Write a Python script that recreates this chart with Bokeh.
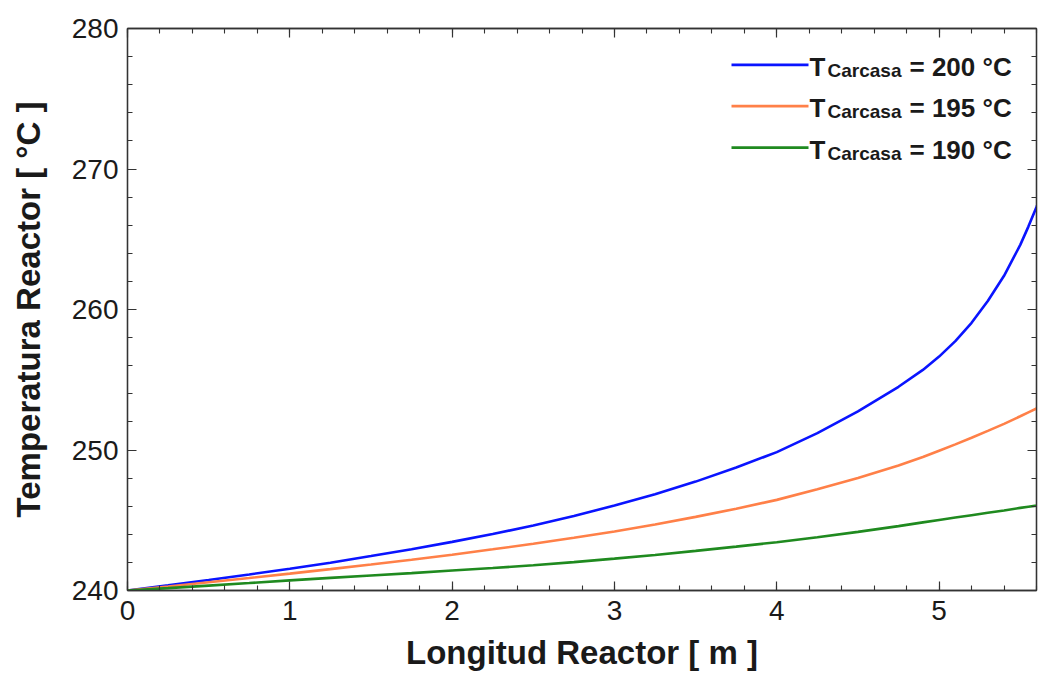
from bokeh.plotting import figure
from bokeh.models import FixedTicker, LinearAxis, Label, Range1d, CustomLabelingPolicy
from bokeh.embed import file_html
from bokeh.resources import INLINE

# ---- data ----
longitud = [0.0, 0.25, 0.5, 0.75, 1.0, 1.25, 1.5, 1.75, 2.0, 2.25, 2.5, 2.75, 3.0, 3.25, 3.5, 3.75,
            4.0, 4.25, 4.5, 4.75, 4.9, 5.0, 5.1, 5.2, 5.3, 5.4, 5.5, 5.55, 5.6, 5.62]
t_200 = [240.0, 240.37, 240.75, 241.14, 241.55, 241.98, 242.45, 242.94, 243.46, 244.02, 244.62, 245.3,
         246.05, 246.85, 247.75, 248.75, 249.85, 251.2, 252.75, 254.5, 255.7, 256.65, 257.75, 259.05,
         260.6, 262.4, 264.6, 265.9, 267.3, 267.9]
t_195 = [240.0, 240.29, 240.59, 240.89, 241.2, 241.52, 241.85, 242.19, 242.55, 242.93, 243.33, 243.76,
         244.2, 244.7, 245.24, 245.82, 246.45, 247.2, 248.0, 248.9, 249.5, 249.95, 250.4, 250.87,
         251.36, 251.86, 252.4, 252.68, 252.95, 253.05]
t_190 = [240.0, 240.17, 240.35, 240.53, 240.72, 240.9, 241.07, 241.24, 241.42, 241.6, 241.8, 242.02,
         242.27, 242.53, 242.82, 243.12, 243.44, 243.79, 244.17, 244.58, 244.85, 245.02, 245.19, 245.36,
         245.53, 245.7, 245.88, 245.96, 246.04, 246.08]

series_labels = ["= 200 °C", "= 195 °C", "= 190 °C"]
series_colors = ["#0a14ff", "#ff8048", "#1f8a1f"]

x_major = [0, 1, 2, 3, 4, 5]
x_minor = [round(i * 0.2, 1) for i in range(0, 29)]
y_major = [240, 250, 260, 270, 280]
y_minor = list(range(240, 281, 2))

X_START, X_END = 0.0, 5.6
Y_START, Y_END = 240.0, 280.0

# ---- layout (canvas pixels) ----
FRAME_L, FRAME_R, FRAME_T, FRAME_B = 127, 1036, 28, 592
W = 1038
BORDER_L = FRAME_L
BORDER_R = W - FRAME_R
BORDER_T = FRAME_T
FRAME_H = FRAME_B - FRAME_T
BORDER_B = 81
H = BORDER_T + FRAME_H + BORDER_B

FONT = "Liberation Sans"
AX = "#333333"

p = figure(width=W, height=H, output_backend="svg", toolbar_location=None,
           x_range=Range1d(X_START, X_END), y_range=Range1d(Y_START, Y_END),
           min_border_left=BORDER_L, min_border_right=BORDER_R,
           min_border_top=BORDER_T, min_border_bottom=BORDER_B)
p.xgrid.visible = False
p.ygrid.visible = False
p.outline_line_color = AX
p.outline_line_width = 1.3
p.background_fill_color = "white"
p.border_fill_color = "white"

NO_LABELS = CustomLabelingPolicy(code="""
for (const i of Array.from(indices)) { indices.unset(i) }
return indices
""")


def style_axis(ax, ticks, minor, labels=True):
    ax.ticker = FixedTicker(ticks=ticks, minor_ticks=minor)
    ax.axis_line_color = AX
    ax.axis_line_width = 1.3
    ax.major_tick_line_color = AX
    ax.minor_tick_line_color = AX
    ax.major_tick_line_width = 1.2
    ax.minor_tick_line_width = 1.1
    ax.major_tick_in = 9
    ax.major_tick_out = 0
    ax.minor_tick_in = 5
    ax.minor_tick_out = 0
    if labels:
        ax.major_label_text_font = FONT
        ax.major_label_text_font_size = "28px"
        ax.major_label_text_color = "#1a1a1a"
    else:
        ax.major_label_policy = NO_LABELS
        ax.major_label_text_color = None
        ax.major_label_standoff = 0


style_axis(p.xaxis[0], x_major, x_minor)
style_axis(p.yaxis[0], y_major, y_minor)
p.xaxis[0].major_label_standoff = 10
p.yaxis[0].major_label_standoff = 9

p.xaxis.axis_label = "Longitud Reactor [ m ]"
p.yaxis.axis_label = "Temperatura Reactor [ °C ]"
for ax in (p.xaxis[0], p.yaxis[0]):
    ax.axis_label_text_font = FONT
    ax.axis_label_text_font_style = "bold"
    ax.axis_label_text_font_size = "33px"
    ax.axis_label_text_color = "#1a1a1a"
p.xaxis[0].axis_label_standoff = 11
p.yaxis[0].axis_label_standoff = 22

right_ax = LinearAxis()
style_axis(right_ax, y_major, y_minor, labels=False)
p.add_layout(right_ax, "right")
top_ax = LinearAxis()
style_axis(top_ax, x_major, x_minor, labels=False)
p.add_layout(top_ax, "above")

for ys, col in zip([t_200, t_195, t_190], series_colors):
    p.line(longitud, ys, line_color=col, line_width=2.6)

# ---- manual legend with subscript (positions given in canvas pixels) ----
px_per_x = (FRAME_R - FRAME_L) / (X_END - X_START)
px_per_y = FRAME_H / (Y_END - Y_START)


def dx(px):
    return X_START + (px - FRAME_L) / px_per_x


def dy(py):
    return Y_START + (FRAME_B - py) / px_per_y


LEG_LINE_X0, LEG_LINE_X1 = 731, 808
LEG_ROW0, LEG_ROW_STEP = 64.5, 41.5
for i, (lab, col) in enumerate(zip(series_labels, series_colors)):
    yl = LEG_ROW0 + i * LEG_ROW_STEP
    p.line([dx(LEG_LINE_X0), dx(LEG_LINE_X1)], [dy(yl), dy(yl)], line_color=col, line_width=2.8)
    base = yl + 2
    p.add_layout(Label(x=dx(809), y=dy(base), text="T", text_font=FONT, text_font_style="bold",
                       text_font_size="26px", text_color="#1a1a1a", text_baseline="alphabetic"))
    p.add_layout(Label(x=dx(827), y=dy(base + 3.5), text="Carcasa", text_font=FONT, text_font_style="bold",
                       text_font_size="19px", text_color="#1a1a1a", text_baseline="alphabetic"))
    p.add_layout(Label(x=dx(909), y=dy(base), text=lab, text_font=FONT, text_font_style="bold",
                       text_font_size="26px", text_color="#1a1a1a", text_baseline="alphabetic"))

open("out.html", "w").write(file_html(p, INLINE))
